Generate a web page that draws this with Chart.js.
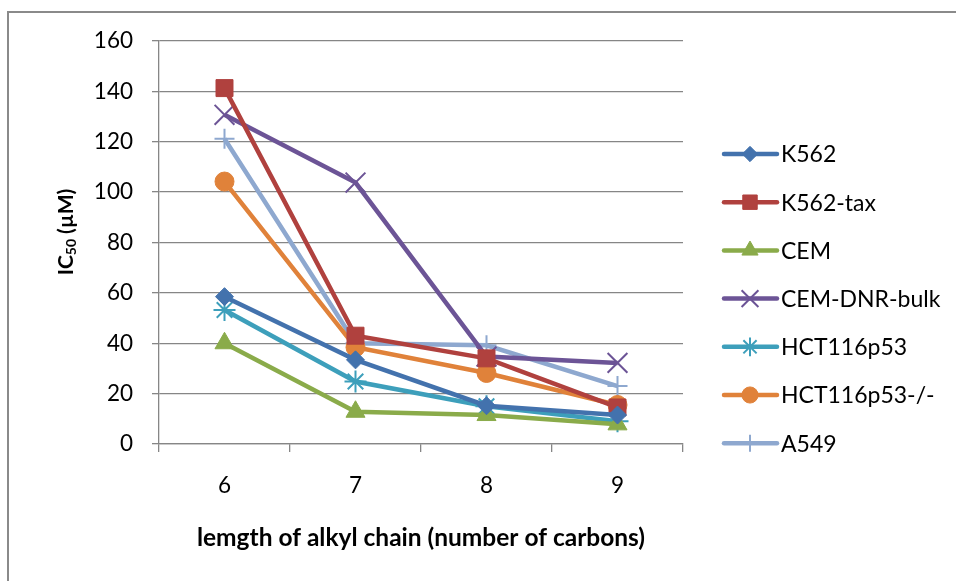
<!DOCTYPE html>
<html>
<head>
<meta charset="utf-8">
<script src="https://cdn.jsdelivr.net/npm/chart.js@4.4.1/dist/chart.umd.min.js"></script>
<style>
    html, body { margin: 0; padding: 0; background: #fff; overflow: hidden; }
    #wrap { position: relative; width: 956px; height: 581px; }
    #frame {
        position: absolute; left: 7px; top: 11px; width: 1200px; height: 1200px;
        border-left: 2px solid #8a8a8a; border-top: 2px solid #8a8a8a;
    }
    canvas { position: absolute; left: 0; top: 0; }
</style>
</head>
<body>
<div id="wrap">
    <div id="frame"></div>
    <canvas id="grafico" width="956" height="581"></canvas>
</div>
<script>
// datos
const categorias = ["6", "7", "8", "9"];
const serieK562 = [58.5, 33.4, 15.2, 11.5];
const serieK562tax = [141.3, 43, 34, 14.5];
const serieCEM = [40, 12.8, 11.5, 7.8];
const serieCEMDNR = [130.7, 103.8, 34.7, 32.2];
const serieHCT = [53.2, 24.8, 15, 9];
const serieHCTko = [104.2, 38.4, 28.2, 15.5];
const serieA549 = [121.2, 40, 39.2, 23];
const ticksY = [0, 20, 40, 60, 80, 100, 120, 140, 160];

const FUENTE = "Lato, 'Open Sans', sans-serif";

function serie(label, data, color, estilo, radio, borde) {
    return {
        label: label,
        data: data,
        borderColor: color,
        backgroundColor: color,
        borderWidth: 4.5,
        tension: 0,
        pointStyle: estilo,
        pointRadius: radio,
        pointHoverRadius: radio,
        pointBorderWidth: borde,
        pointBorderColor: color,
        pointBackgroundColor: color
    };
}

const datasets = [
    serie("K562", serieK562, "#4372ad", "rectRot", 9, 1),
    serie("K562-tax", serieK562tax, "#b0413e", "rect", 12, 1),
    serie("CEM", serieCEM, "#8aab4a", "triangle", 11, 1),
    serie("CEM-DNR-bulk", serieCEMDNR, "#6c5496", "crossRot", 14, 2),
    serie("HCT116p53", serieHCT, "#3d9fbb", "star", 11, 2),
    serie("HCT116p53-/-", serieHCTko, "#e0823a", "circle", 9.5, 1),
    serie("A549", serieA549, "#8ea8cf", "cross", 10, 2)
];

// 🔥 titulos y leyenda al estilo Excel
const decorExcel = {
    id: "decorExcel",
    afterDraw(chart) {
        const ctx = chart.ctx;
        const area = chart.chartArea;
        ctx.save();
        ctx.fillStyle = "#000";

        // titulo eje Y con subindice
        ctx.translate(66, 232);
        ctx.rotate(-Math.PI / 2);
        const fGrande = "bold 21px " + FUENTE;
        const fChica = "bold 14px " + FUENTE;
        ctx.font = fGrande;
        const w1 = ctx.measureText("IC").width;
        const w3 = ctx.measureText(" (µM)").width;
        ctx.font = fChica;
        const w2 = ctx.measureText("50").width;
        let x0 = -(w1 + w2 + w3) / 2;
        ctx.textBaseline = "middle";
        ctx.textAlign = "left";
        ctx.font = fGrande;
        ctx.fillText("IC", x0, 0);
        ctx.font = fChica;
        ctx.fillText("50", x0 + w1, 5);
        ctx.font = fGrande;
        ctx.fillText(" (µM)", x0 + w1 + w2, 0);
        ctx.restore();

        // titulo eje X
        ctx.save();
        ctx.fillStyle = "#000";
        ctx.font = "bold 24.5px " + FUENTE;
        ctx.textAlign = "center";
        ctx.textBaseline = "middle";
        ctx.fillText("lemgth of alkyl chain (number of carbons)", (area.left + area.right) / 2, 538);
        ctx.restore();

        // leyenda
        ctx.save();
        chart.data.datasets.forEach((ds, i) => {
            const y = 154 + i * 48.2;
            ctx.strokeStyle = ds.borderColor;
            ctx.lineWidth = 4.5;
            ctx.lineCap = "round";
            ctx.beginPath();
            ctx.moveTo(724, y);
            ctx.lineTo(777, y);
            ctx.stroke();
            ctx.fillStyle = ds.pointBackgroundColor;
            ctx.strokeStyle = ds.pointBorderColor;
            ctx.lineWidth = ds.pointBorderWidth;
            ctx.lineCap = "butt";
            Chart.helpers.drawPoint(ctx, {
                pointStyle: ds.pointStyle,
                radius: ds.pointRadius * 0.85,
                rotation: 0,
                borderWidth: ds.pointBorderWidth
            }, 750, y);
            ctx.fillStyle = "#000";
            ctx.font = "23px " + FUENTE;
            ctx.textAlign = "left";
            ctx.textBaseline = "middle";
            ctx.fillText(ds.label, 781, y + 1);
        });
        ctx.restore();
    }
};

new Chart(document.getElementById("grafico"), {
    type: "line",
    data: {
        labels: categorias,
        datasets: datasets
    },
    options: {
        responsive: false,
        animation: false,
        layout: {
            padding: { top: 41, right: 273, left: 0, bottom: 0 }
        },
        plugins: {
            legend: { display: false },
            tooltip: { enabled: false }
        },
        scales: {
            x: {
                offset: true,
                grid: {
                    offset: true,
                    drawOnChartArea: false,
                    color: "#868686",
                    lineWidth: 1.3,
                    tickLength: 8
                },
                border: { color: "#868686", width: 1.3 },
                ticks: {
                    color: "#000",
                    padding: 20,
                    font: { family: FUENTE, size: 22.5 }
                },
                afterFit(scale) { scale.height = 137; }
            },
            y: {
                min: 0,
                max: 160,
                afterBuildTicks(scale) {
                    scale.ticks = ticksY.map(v => ({ value: v }));
                },
                grid: {
                    color: "#868686",
                    lineWidth: 1.3,
                    tickLength: 7
                },
                border: { color: "#868686", width: 1.3 },
                ticks: {
                    color: "#000",
                    padding: 19,
                    font: { family: FUENTE, size: 22.5 }
                },
                afterFit(scale) { scale.width = 159; }
            }
        }
    },
    plugins: [decorExcel]
});
</script>
</body>
</html>
